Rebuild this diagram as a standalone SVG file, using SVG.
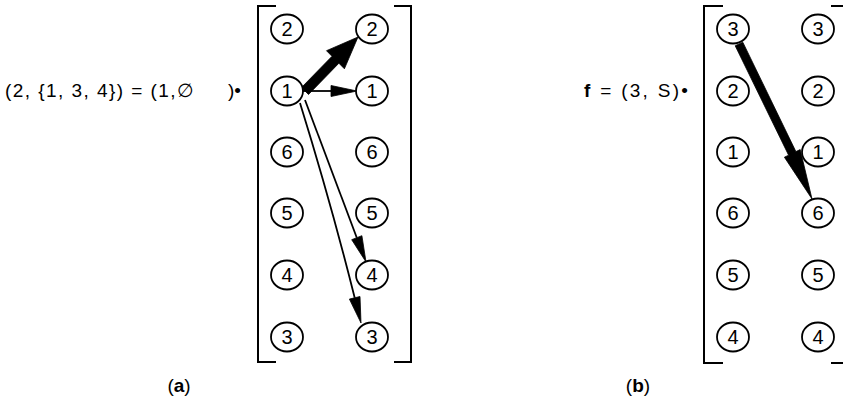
<svg xmlns="http://www.w3.org/2000/svg" width="843" height="403" viewBox="0 0 843 403">
  <style>
    .node ellipse { fill: #fff; stroke: #000; stroke-width: 1.8; }
    .node text { font-family: "Liberation Sans", Arial, sans-serif; font-size: 20px; text-anchor: middle; fill: #000; }
    .bracket { fill: none; stroke: #000; stroke-width: 2; }
    .eq { font-family: "Liberation Sans", Arial, sans-serif; font-size: 19px; fill: #000; }
    .cap { font-family: "Liberation Sans", Arial, sans-serif; font-size: 19px; fill: #000; text-anchor: middle; }
    .thin { fill: none; stroke: #000; stroke-width: 1.8; }
    .head { fill: #000; stroke: #000; stroke-width: 0.8; stroke-linejoin: miter; }
  </style>

  <!-- panel (a) -->
  <g id="panel-a">
    <path class="bracket" d="M276,6 H258 V362 H276"/>
    <path class="bracket" d="M394,6 H411 V362 H394"/>
    <text class="eq" x="5" y="97" textLength="189" lengthAdjust="spacing">(2, {1, 3, 4}) = (1,∅</text>
    <text class="eq" x="228" y="97">)•</text>
    <text class="cap" x="179" y="392">(<tspan font-weight="bold">a</tspan>)</text>
  </g>

  <!-- panel (b) -->
  <g id="panel-b">
    <path class="bracket" d="M723,6 H704 V363 H723"/>
    <path class="bracket" d="M831,6 H845 V363 H831"/>
    <text class="eq" x="584" y="97" textLength="104" lengthAdjust="spacing"><tspan font-weight="bold">f</tspan> = (3, S)•</text>
    <text class="cap" x="638" y="392">(<tspan font-weight="bold">b</tspan>)</text>
  </g>

  <!-- connectors -->
  <g id="connectors">
    <!-- (a) 1 -> 2, heavy -->
    <polygon class="head" points="301.5,87.5 332,56.3 326.5,50.7 358,37 344.4,68.8 338.9,63.2 308.5,94.5"/>
    <!-- (a) 1 -> 1 -->
    <line class="thin" x1="303" y1="91" x2="334" y2="91"/>
    <polygon class="head" points="357,91 331,85.5 331,96.5"/>
    <!-- (a) 1 -> 4 -->
    <line class="thin" x1="305" y1="100" x2="356.8" y2="237.7"/>
    <polygon class="head" points="366,262 361.9,235.7 351.7,239.7"/>
    <!-- (a) 1 -> 3 -->
    <path class="thin" d="M300,103 Q331,203 354.7,297.8"/>
    <polygon class="head" points="361,323 360,296.5 349.4,299.1"/>
    <!-- (b) 3 -> 6, heavy -->
    <polygon class="head" points="735.2,45.8 788.6,155.2 784.4,157.2 812,199 800.2,149.6 795.9,151.6 742.8,42.2"/>
  </g>

  <!-- (a) left column -->
  <g id="a-l2" class="node"><ellipse cx="287" cy="29" rx="16" ry="14.5"/><text x="287" y="36">2</text></g>
  <g id="a-l1" class="node"><ellipse cx="287" cy="91" rx="16" ry="14.5"/><text x="287" y="98">1</text></g>
  <g id="a-l6" class="node"><ellipse cx="287" cy="152" rx="16" ry="14.5"/><text x="287" y="159">6</text></g>
  <g id="a-l5" class="node"><ellipse cx="287" cy="213" rx="16" ry="14.5"/><text x="287" y="220">5</text></g>
  <g id="a-l4" class="node"><ellipse cx="287" cy="275" rx="16" ry="14.5"/><text x="287" y="282">4</text></g>
  <g id="a-l3" class="node"><ellipse cx="287" cy="337" rx="16" ry="14.5"/><text x="287" y="344">3</text></g>
  <!-- (a) right column -->
  <g id="a-r2" class="node"><ellipse cx="372" cy="29" rx="16" ry="14.5"/><text x="372" y="36">2</text></g>
  <g id="a-r1" class="node"><ellipse cx="372" cy="91" rx="16" ry="14.5"/><text x="372" y="98">1</text></g>
  <g id="a-r6" class="node"><ellipse cx="372" cy="152" rx="16" ry="14.5"/><text x="372" y="159">6</text></g>
  <g id="a-r5" class="node"><ellipse cx="372" cy="213" rx="16" ry="14.5"/><text x="372" y="220">5</text></g>
  <g id="a-r4" class="node"><ellipse cx="372" cy="275" rx="16" ry="14.5"/><text x="372" y="282">4</text></g>
  <g id="a-r3" class="node"><ellipse cx="372" cy="337" rx="16" ry="14.5"/><text x="372" y="344">3</text></g>

  <!-- (b) left column -->
  <g id="b-l3" class="node"><ellipse cx="733" cy="29" rx="16" ry="14.5"/><text x="733" y="36">3</text></g>
  <g id="b-l2" class="node"><ellipse cx="733" cy="91" rx="16" ry="14.5"/><text x="733" y="98">2</text></g>
  <g id="b-l1" class="node"><ellipse cx="733" cy="152" rx="16" ry="14.5"/><text x="733" y="159">1</text></g>
  <g id="b-l6" class="node"><ellipse cx="733" cy="213" rx="16" ry="14.5"/><text x="733" y="220">6</text></g>
  <g id="b-l5" class="node"><ellipse cx="733" cy="275" rx="16" ry="14.5"/><text x="733" y="282">5</text></g>
  <g id="b-l4" class="node"><ellipse cx="733" cy="337" rx="16" ry="14.5"/><text x="733" y="344">4</text></g>
  <!-- (b) right column -->
  <g id="b-r3" class="node"><ellipse cx="818" cy="29" rx="16" ry="14.5"/><text x="818" y="36">3</text></g>
  <g id="b-r2" class="node"><ellipse cx="818" cy="91" rx="16" ry="14.5"/><text x="818" y="98">2</text></g>
  <g id="b-r1" class="node"><ellipse cx="818" cy="152" rx="16" ry="14.5"/><text x="818" y="159">1</text></g>
  <g id="b-r6" class="node"><ellipse cx="818" cy="213" rx="16" ry="14.5"/><text x="818" y="220">6</text></g>
  <g id="b-r5" class="node"><ellipse cx="818" cy="275" rx="16" ry="14.5"/><text x="818" y="282">5</text></g>
  <g id="b-r4" class="node"><ellipse cx="818" cy="337" rx="16" ry="14.5"/><text x="818" y="344">4</text></g>
</svg>
